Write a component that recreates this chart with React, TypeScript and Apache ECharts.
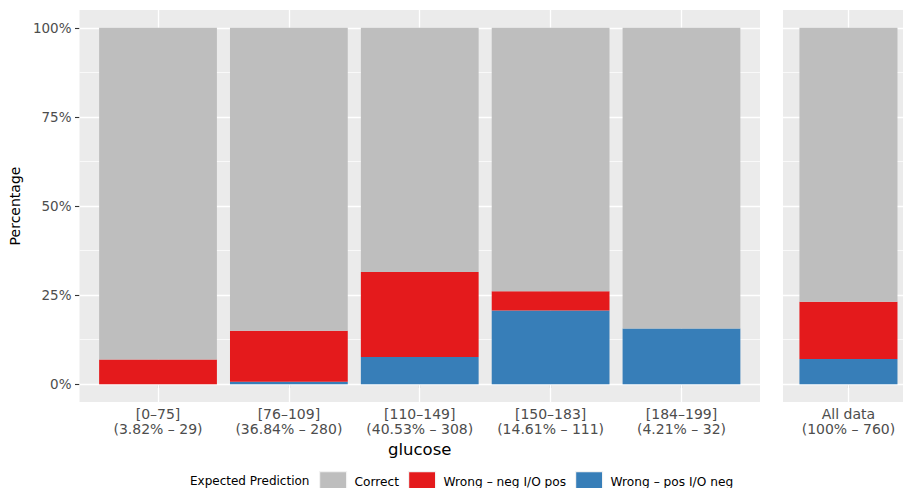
import React, { useEffect, useRef } from 'react';
import * as echarts from 'echarts';

const groupLabels = ['[0–75]', '[76–109]', '[110–149]', '[150–183]', '[184–199]'];
const groupShares = ['(3.82% – 29)', '(36.84% – 280)', '(40.53% – 308)', '(14.61% – 111)', '(4.21% – 32)'];
const allLabels = ['All data'];
const allShares = ['(100% – 760)'];

const seriesNames = ['Correct', 'Wrong – neg I/O pos', 'Wrong – pos I/O neg'];
const correctPct = [93.1, 85.0, 68.5, 73.9, 84.4];
const wrongNegPct = [6.9, 14.3, 23.9, 5.4, 0];
const wrongPosPct = [0, 0.7, 7.6, 20.7, 15.6];
const allCorrectPct = [76.9];
const allWrongNegPct = [16.0];
const allWrongPosPct = [7.1];

const yTicks = [0, 25, 50, 75, 100];
const yMinorTicks = [12.5, 37.5, 62.5, 87.5];
const legendTitle = 'Expected Prediction';
const xTitle = 'glucose';
const yTitle = 'Percentage';

const COLORS = ['#BEBEBE', '#E41A1C', '#377EB8'];
const FONT = 'DejaVu Sans';

export default function App() {
  const ref = useRef<HTMLDivElement>(null);

  useEffect(() => {
    if (!ref.current) return;
    const chart = echarts.init(ref.current, null, { renderer: 'svg' });

    const pos1 = groupLabels.map((_, i) => i + 1);
    const pos2 = allLabels.map((_, i) => i + 1);

    const gridLines = (positions: number[]) => ({
      silent: true,
      symbol: ['none', 'none'],
      z: 1,
      label: { show: false },
      emphasis: { disabled: true },
      lineStyle: { color: '#FFFFFF', type: 'solid', width: 1.3 },
      data: [
        ...yTicks.map((v) => ({ yAxis: v, lineStyle: { width: 1.3, color: '#FFFFFF', type: 'solid' } })),
        ...yMinorTicks.map((v) => ({ yAxis: v, lineStyle: { width: 0.7, color: '#FFFFFF', type: 'solid' } })),
        ...positions.map((x) => ({ xAxis: x, lineStyle: { width: 1.3, color: '#FFFFFF', type: 'solid' } })),
      ],
    });

    // data rows are [value, position]; encode maps position to x so that the value column is the stacked one
    const mk = (name: string, color: string, values: number[], positions: number[], idx: number, stack: string, withGrid: boolean, barWidth: string) => ({
      type: 'bar',
      name,
      xAxisIndex: idx,
      yAxisIndex: idx,
      stack,
      barWidth,
      z: 2,
      itemStyle: { color },
      emphasis: { disabled: true },
      encode: { x: 1, y: 0 },
      data: values.map((v, i) => [v, positions[i]]),
      ...(withGrid ? { markLine: gridLines(positions) } : {}),
    });

    const tickStyle = { color: '#333333', width: 1.1 };
    const xLabelStyle = { color: '#4D4D4D', fontFamily: FONT, fontSize: 14 };
    const yLabelStyle = { color: '#4D4D4D', fontFamily: FONT, fontSize: 13.5 };

    const option: any = {
      animation: false,
      grid: [
        { left: 79, top: 10, width: 681, height: 392, show: true, backgroundColor: '#EBEBEB', borderWidth: 0, containLabel: false },
        { left: 783, top: 10, right: 0, height: 392, show: true, backgroundColor: '#EBEBEB', borderWidth: 0, containLabel: false },
      ],
      xAxis: [
        {
          type: 'value', gridIndex: 0, min: 0.4, max: 5.6,
          axisLine: { show: false },
          axisTick: { show: true, customValues: pos1, length: 4, lineStyle: tickStyle },
          axisLabel: {
            ...xLabelStyle, customValues: pos1, margin: 4, lineHeight: 15,
            formatter: (v: number) => {
              const i = Math.round(v) - 1;
              return `${groupLabels[i]}\n${groupShares[i]}`;
            },
          },
          splitLine: { show: false },
          name: xTitle, nameLocation: 'middle', nameGap: 33,
          nameTextStyle: { color: '#000000', fontFamily: FONT, fontSize: 16.5, lineHeight: 16 },
        },
        {
          type: 'value', gridIndex: 1, min: 0.4, max: 1.5,
          axisLine: { show: false },
          axisTick: { show: true, customValues: pos2, length: 4, lineStyle: tickStyle },
          axisLabel: {
            ...xLabelStyle, customValues: pos2, margin: 4, lineHeight: 15,
            formatter: (v: number) => {
              const i = Math.round(v) - 1;
              return `${allLabels[i]}\n${allShares[i]}`;
            },
          },
          splitLine: { show: false },
        },
      ],
      yAxis: [
        {
          type: 'value', gridIndex: 0, min: -5, max: 105,
          axisLine: { show: false },
          axisTick: { show: true, customValues: yTicks, length: 4.5, lineStyle: tickStyle },
          axisLabel: { ...yLabelStyle, customValues: yTicks, margin: 8, formatter: (v: number) => `${v}%` },
          splitLine: { show: false },
          name: yTitle, nameLocation: 'middle', nameGap: 54,
          nameTextStyle: { color: '#000000', fontFamily: FONT, fontSize: 14 },
        },
        {
          type: 'value', gridIndex: 1, min: -5, max: 105,
          axisLine: { show: false },
          axisTick: { show: false },
          axisLabel: { show: false },
          splitLine: { show: false },
        },
      ],
      legend: seriesNames.map((n, i) => ({
        data: [{ name: n, icon: 'rect' }],
        left: [319, 408, 575][i],
        top: 471,
        itemWidth: 27,
        itemHeight: 20,
        padding: 0,
        selectedMode: false,
        itemStyle: { borderColor: '#F2F2F2', borderWidth: 1.2 },
        textStyle: { color: '#000000', fontFamily: FONT, fontSize: 12.2, padding: [0, 0, 0, 3] },
      })),
      graphic: [
        {
          type: 'text',
          x: 190,
          y: 481,
          style: { text: legendTitle, fill: '#000000', font: `12px "${FONT}"`, verticalAlign: 'middle' },
        },
      ],
      series: [
        mk(seriesNames[2], COLORS[2], wrongPosPct, pos1, 0, 'p1', true, '90%'),
        mk(seriesNames[1], COLORS[1], wrongNegPct, pos1, 0, 'p1', false, '90%'),
        mk(seriesNames[0], COLORS[0], correctPct, pos1, 0, 'p1', false, '90%'),
        mk(seriesNames[2], COLORS[2], allWrongPosPct, pos2, 1, 'p2', true, '81.7%'),
        mk(seriesNames[1], COLORS[1], allWrongNegPct, pos2, 1, 'p2', false, '81.7%'),
        mk(seriesNames[0], COLORS[0], allCorrectPct, pos2, 1, 'p2', false, '81.7%'),
      ],
    };

    chart.setOption(option);
    return () => chart.dispose();
  }, []);

  return (
    <div
      ref={ref}
      style={{ position: 'fixed', left: 0, top: 0, width: 903, height: 488, background: '#FFFFFF', overflow: 'hidden' }}
    />
  );
}
